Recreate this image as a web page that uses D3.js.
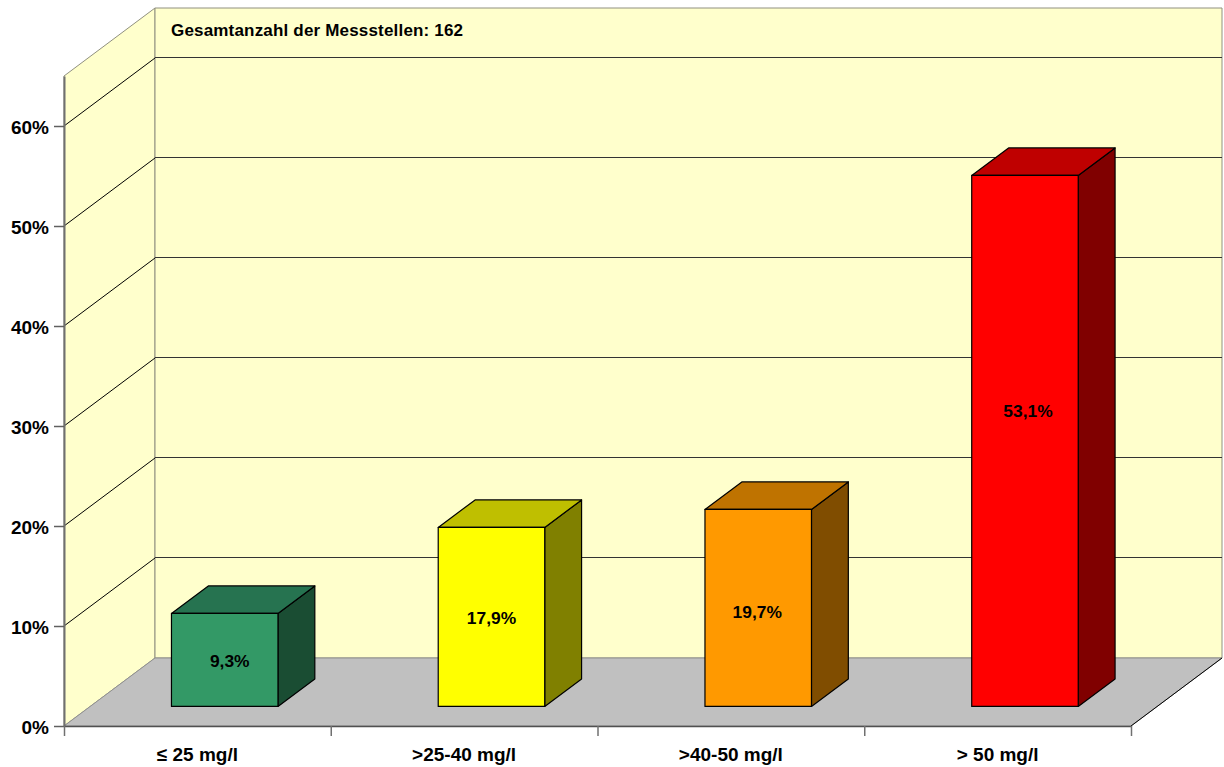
<!DOCTYPE html>
<html>
<head>
<meta charset="utf-8">
<script src="https://cdn.jsdelivr.net/npm/d3@7"></script>
<style>
  html, body { margin: 0; padding: 0; background: #fff; }
  text { font-family: "Liberation Sans", Arial, sans-serif; fill: #000; }
</style>
</head>
<body>
<svg id="chart" width="1224" height="767"></svg>
<script>
const categories = ["≤ 25 mg/l", ">25-40 mg/l", ">40-50 mg/l", "> 50 mg/l"]
const values = [9.3, 17.9, 19.7, 53.1]
const valueLabels = ["9,3%", "17,9%", "19,7%", "53,1%"]
const yTicks = [0, 10, 20, 30, 40, 50, 60]
const colors = ["#339966", "#ffff00", "#ff9900", "#ff0000"]
const topColors = ["#267350", "#bfbf00", "#bf7300", "#bf0000"]
const sideColors = ["#1a4d33", "#808000", "#804d00", "#800000"]
// where the label sits above the bar foot, in % units (excel did not center them)
const labelLevels = [4.5, 8.8, 9.4, 29.5]
const labelShift = [5, 0, -1, 3]
const noteText = "Gesamtanzahl der Messstellen: 162"

const PLOT = { left: 64, right: 1131, top: 76, bottom: 726 }
const DEPTH = { x: 91, y: -68 }
const BAR = { z0: 0.295, z1: 0.7, width: 106.5 }

const svg = d3.select("#chart")
const x = d3.scaleBand().domain(categories).range([PLOT.left, PLOT.right])
const y = d3.scaleLinear().domain([0, 65]).range([PLOT.bottom, PLOT.top])

// front-plane point pushed back by z (0..1)
const pt = (px, py, z) => [px + DEPTH.x * z, py + DEPTH.y * z]
const poly = pts => pts.map(p => p.join(",")).join(" ")

const leftWall = [pt(PLOT.left, PLOT.bottom, 0), pt(PLOT.left, PLOT.top, 0), pt(PLOT.left, PLOT.top, 1), pt(PLOT.left, PLOT.bottom, 1)]
const backWall = [pt(PLOT.left, PLOT.bottom, 1), pt(PLOT.left, PLOT.top, 1), pt(PLOT.right, PLOT.top, 1), pt(PLOT.right, PLOT.bottom, 1)]
const floor = [pt(PLOT.left, PLOT.bottom, 0), pt(PLOT.left, PLOT.bottom, 1), pt(PLOT.right, PLOT.bottom, 1), pt(PLOT.right, PLOT.bottom, 0)]

svg.selectAll("polygon.wall")
  .data([leftWall, backWall])
  .join("polygon")
  .attr("class", "wall")
  .attr("points", poly)
  .style("fill", "#ffffcc")
  .style("stroke", "#909080")
  .style("stroke-width", 1)

svg.append("polygon")
  .attr("points", poly(floor))
  .style("fill", "#c0c0c0")
  .style("stroke", "#909090")
  .style("stroke-width", 1)

// right floor edge is drawn darker in the original
svg.append("line")
  .attr("x1", PLOT.right).attr("y1", PLOT.bottom)
  .attr("x2", PLOT.right + DEPTH.x).attr("y2", PLOT.bottom + DEPTH.y)
  .style("stroke", "#000")

const grid = svg.append("g")
yTicks.filter(d => d > 0).forEach(d => {
  const a = pt(PLOT.left, y(d), 0)
  const b = pt(PLOT.left, y(d), 1)
  const c = pt(PLOT.right, y(d), 1)
  grid.append("line")
    .attr("x1", a[0]).attr("y1", a[1]).attr("x2", b[0]).attr("y2", b[1])
    .style("stroke", "#000").style("stroke-width", 1)
  grid.append("line")
    .attr("x1", b[0]).attr("y1", Math.round(b[1]) - 0.5).attr("x2", c[0]).attr("y2", Math.round(c[1]) - 0.5)
    .style("stroke", "#333").style("stroke-width", 1.2)
})

// bars
const bars = svg.selectAll("g.bar")
  .data(categories)
  .join("g")
  .attr("class", "bar")

bars.each(function (cat, i) {
  const g = d3.select(this)
  const x0 = x(cat) + (x.bandwidth() - BAR.width) / 2 + 0.5
  const x1 = x0 + BAR.width
  const y0 = y(0) + 0.5
  const y1 = y(values[i]) + 0.5
  const { z0, z1 } = BAR
  const edge = sel => sel.style("stroke", "#000").style("stroke-width", 1.2).style("stroke-linejoin", "round")

  g.append("polygon")
    .attr("points", poly([pt(x1, y0, z0), pt(x1, y1, z0), pt(x1, y1, z1), pt(x1, y0, z1)]))
    .style("fill", sideColors[i]).call(edge)
  g.append("polygon")
    .attr("points", poly([pt(x0, y1, z0), pt(x0, y1, z1), pt(x1, y1, z1), pt(x1, y1, z0)]))
    .style("fill", topColors[i]).call(edge)
  g.append("polygon")
    .attr("points", poly([pt(x0, y0, z0), pt(x0, y1, z0), pt(x1, y1, z0), pt(x1, y0, z0)]))
    .style("fill", colors[i]).call(edge)

  const c = pt((x0 + x1) / 2, y(labelLevels[i]), z0)
  g.append("text")
    .attr("x", c[0] + labelShift[i])
    .attr("y", c[1])
    .attr("dy", "0.35em")
    .attr("text-anchor", "middle")
    .style("font-size", "17.4px")
    .style("font-weight", "bold")
    .style("stroke", "none")
    .text(valueLabels[i])
})

// axes
const yAxis = d3.axisLeft(y)
  .tickValues(yTicks)
  .tickSize(10)
  .tickSizeOuter(0)
  .tickPadding(5)
  .tickFormat(d => d + "%")

const yG = svg.append("g")
  .attr("transform", `translate(${PLOT.left},0)`)
  .call(yAxis)
yG.select(".domain").style("stroke", "#707070").style("stroke-width", 2)
yG.selectAll(".tick line").style("stroke", "#606060").style("stroke-width", 1.5)
yG.selectAll("text")
  .attr("dy", "0.4em")
  .style("font-size", "19px")
  .style("font-weight", "bold")

const xAxis = d3.scaleLinear().domain([0, categories.length]).range([PLOT.left, PLOT.right])
const xG = svg.append("g")
  .attr("transform", `translate(0,${PLOT.bottom})`)
  .call(d3.axisBottom(xAxis).tickValues(d3.range(categories.length + 1)).tickSize(10).tickSizeOuter(0).tickFormat(""))
xG.select(".domain").style("stroke", "#505050").style("stroke-width", 1.5)
xG.selectAll(".tick line").style("stroke", "#707070").style("stroke-width", 1.5)

svg.selectAll("text.cat")
  .data(categories)
  .join("text")
  .attr("class", "cat")
  .attr("x", d => x(d) + x.bandwidth() / 2)
  .attr("y", 761)
  .attr("text-anchor", "middle")
  .style("font-size", "19px")
  .style("font-weight", "bold")
  .text(d => d)

svg.append("text")
  .attr("x", 171)
  .attr("y", 36)
  .style("font-size", "17px")
  .style("font-weight", "bold")
  .style("letter-spacing", "0.18px")
  .text(noteText)
</script>
</body>
</html>
